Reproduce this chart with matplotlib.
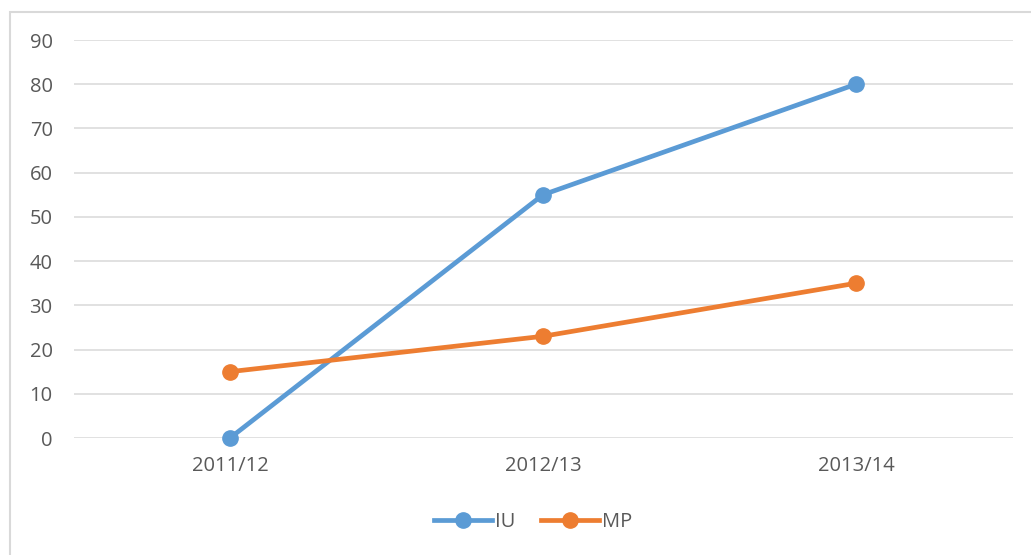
import matplotlib.pyplot as plt
from matplotlib.patches import Rectangle

plt.rcParams['font.family'] = ['Open Sans', 'DejaVu Sans']

years = ['2011/12', '2012/13', '2013/14']
iu = [0, 55, 80]
mp = [15, 23, 35]
yticks = list(range(0, 100, 10))

fig = plt.figure(figsize=(10.31, 5.55), dpi=100)
ax = fig.add_axes([73.5 / 1031, 1 - 438 / 555, 939 / 1031, 398 / 555])

x = range(len(years))
ax.plot(x, iu, color='#5B9BD5', lw=3.4, marker='o', ms=11, label='IU', clip_on=False)
ax.plot(x, mp, color='#ED7D31', lw=3.4, marker='o', ms=11, label='MP', clip_on=False)

ax.set_xlim(-0.5, 2.5)
ax.set_ylim(0, 90)
ax.set_yticks(yticks)
ax.set_xticks(list(x))
ax.set_xticklabels(years)
ax.grid(axis='y', color='#d9d9d9', lw=1.1)
ax.set_axisbelow(True)
for s in ax.spines.values():
    s.set_visible(False)
ax.tick_params(length=0, labelsize=14.5, labelcolor='#595959')
ax.tick_params(axis='y', pad=15)
ax.tick_params(axis='x', pad=13)

leg = ax.legend(loc='center', bbox_to_anchor=(533 / 1031, 1 - 522 / 555), bbox_transform=fig.transFigure,
                ncol=2, frameon=False, fontsize=14.5, handlelength=2.9, columnspacing=1.25,
                handletextpad=0.15)
for t in leg.get_texts():
    t.set_color('#595959')

# chart border
fig.patches.append(Rectangle((10 / 1031, -0.1), 1.2, 1 - 12 / 555 + 0.1, transform=fig.transFigure,
                             fill=False, edgecolor='#d9d9d9', lw=1.5, clip_on=False))

fig.savefig('out.png', dpi=100, facecolor='white')
